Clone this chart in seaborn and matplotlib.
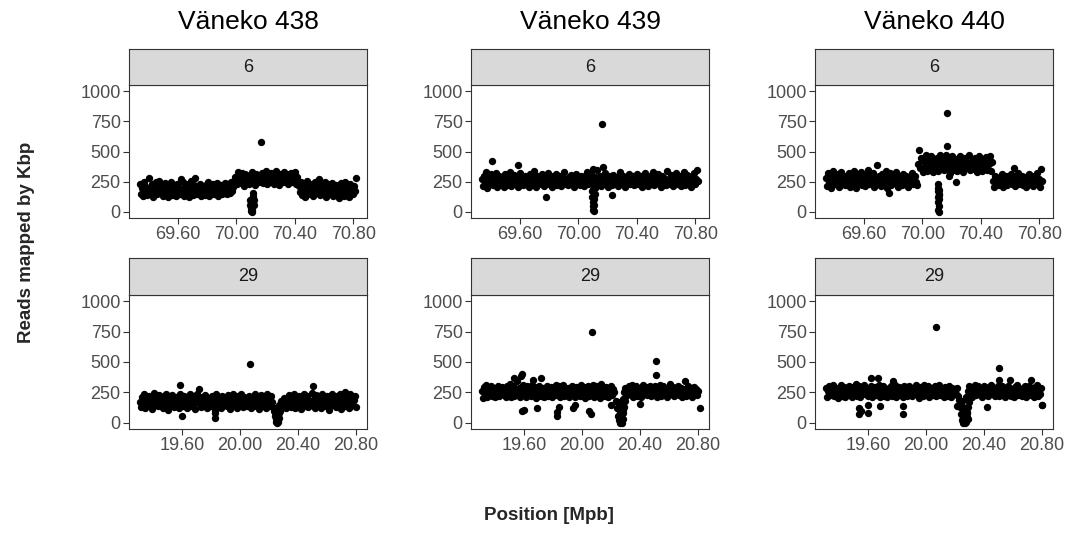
import numpy as np
import pandas as pd
import matplotlib
matplotlib.use("Agg")
import matplotlib.pyplot as plt
import seaborn as sns

# ---------------- data ----------------
samples = ["Väneko 438", "Väneko 439", "Väneko 440"]
chroms = ["6", "29"]
chrom_range = {"6": (69.34, 70.82), "29": (19.31, 20.80)}
xticks = {"6": [69.6, 70.0, 70.4, 70.8], "29": [19.6, 20.0, 20.4, 20.8]}
yticks = [0, 250, 500, 750, 1000]

# binned reads per Kbp along each region (evenly spaced windows)
v438_6 = [230,150,200,130,250,175,210,140,280,190,160,235,125,205,170,245,145,195,260,165,
          215,135,185,240,155,200,125,225,175,250,140,190,210,130,235,170,200,150,275,185,
          245,135,210,160,230,125,190,255,170,140,220,280,150,200,175,235,130,195,160,215,
          140,225,180,250,135,200,165,230,145,210,185,240,130,195,170,220,150,205,240,175,
          145,230,190,160,250,175,210,240,290,230,330,260,300,240,320,275,215,310,260,290,
          235,305,270,330,250,290,225,315,260,300,245,280,320,240,295,265,335,230,285,305,
          250,320,270,235,300,340,260,290,225,315,275,305,245,330,265,295,230,310,280,320,
          250,300,265,330,235,290,215,165,250,140,195,230,125,180,260,150,205,170,235,130,
          190,245,155,210,175,270,140,220,165,195,250,125,185,230,145,200,170,240,135,190,
          225,150,205,115,180,240,160,210,135,250,175,195,120,230,165,205,145,215,170,280]
v439_6 = [270,215,300,245,330,200,280,230,310,255,220,290,240,320,205,265,300,235,285,250,
          210,310,260,225,295,240,330,215,275,250,305,230,285,205,260,320,240,290,220,270,
          300,235,265,210,315,250,280,225,340,260,205,295,245,275,230,310,255,215,285,240,
          270,320,230,260,295,205,280,245,310,225,265,300,240,215,285,255,330,235,270,220,
          290,250,305,230,275,210,260,315,240,285,225,300,255,270,215,295,245,330,230,265,
          310,240,275,220,290,255,350,230,265,300,215,280,245,320,235,270,205,295,250,285,
          225,305,260,240,290,215,275,330,250,230,300,265,210,285,245,315,235,270,255,295,
          220,280,245,310,230,265,295,205,275,250,320,235,285,215,260,300,240,330,225,270,
          290,245,315,230,265,205,300,255,280,220,340,250,275,230,305,260,215,290,245,320,
          235,270,300,215,285,250,330,225,265,305,240,280,210,295,255,320,230,275,350,260]
v440_6 = [280,215,320,250,300,195,270,340,230,290,255,310,205,275,330,240,265,300,220,285,
          250,320,210,295,265,235,340,280,200,310,245,275,330,225,290,260,215,305,270,350,
          235,295,260,320,210,280,245,385,230,300,265,215,310,275,245,340,200,290,260,325,
          225,280,305,240,265,330,210,295,250,285,220,315,260,240,300,270,210,290,255,325,
          235,275,300,250,220,400,510,360,450,330,420,380,470,340,400,440,350,460,390,330,
          420,370,450,335,400,470,360,430,390,345,455,410,370,440,325,395,460,350,420,385,
          440,340,405,465,375,420,330,395,450,360,410,380,470,345,425,390,355,445,400,330,
          415,460,370,400,340,435,385,455,350,420,395,465,335,410,260,210,300,240,275,225,
          290,250,315,205,270,240,300,220,285,255,310,230,265,360,215,280,245,320,235,270,
          300,225,260,290,210,275,245,310,235,265,295,215,280,250,320,230,270,205,355,255]
v438_29 = [175,130,210,155,235,120,190,165,225,140,200,115,180,245,150,215,170,135,230,160,
           195,125,220,150,240,170,110,205,145,185,230,130,175,215,155,195,120,240,165,205,
           140,225,180,120,210,160,235,135,195,150,220,115,185,240,160,200,130,215,175,145,
           230,165,120,205,185,140,225,155,195,110,240,170,135,210,180,125,220,150,200,165,
           135,230,175,115,205,160,240,145,190,125,220,170,150,235,185,130,210,160,195,140,
           225,170,120,210,185,150,240,135,200,165,115,230,175,145,215,190,125,235,160,205,
           140,220,175,120,90,60,120,40,150,100,180,130,160,205,120,185,145,230,170,130,
           210,165,240,125,195,150,225,175,115,205,160,235,140,190,220,130,180,150,245,165,
           200,125,230,170,145,215,185,120,240,160,195,135,225,175,110,210,150,240,165,190,
           130,220,175,150,240,115,195,165,230,140,205,180,120,235,160,210,145,185,225,130]
v439_29 = [260,205,295,235,310,215,275,245,300,225,265,290,210,280,240,305,220,270,250,295,
           230,285,215,305,255,240,320,210,275,300,225,265,345,235,290,215,280,250,310,230,
           270,210,300,245,285,220,315,260,230,295,205,275,250,305,225,265,290,215,280,240,
           305,225,270,250,295,210,285,240,315,230,265,300,215,280,245,310,220,275,255,290,
           215,285,250,305,230,270,210,295,245,280,225,310,260,235,295,205,275,250,300,220,
           280,245,310,215,270,300,235,255,290,205,320,240,275,225,295,260,215,285,250,305,
           230,275,250,180,120,60,20,0,40,100,200,255,290,220,275,300,240,265,310,215,
           245,270,300,225,290,255,215,280,310,240,265,295,230,275,250,305,220,285,245,300,
           260,215,290,240,310,225,275,300,235,265,215,285,250,320,240,270,295,225,280,250,
           305,230,265,290,215,280,245,340,225,270,300,235,285,210,260,295,245,275,230,265]
v440_29 = [285,210,260,300,230,275,245,315,220,290,255,205,280,240,310,225,265,295,215,270,
           250,305,230,280,210,295,260,240,320,225,270,300,215,285,245,310,235,265,290,220,
           275,240,300,215,260,295,230,285,250,315,210,270,245,305,225,280,255,215,290,240,
           300,225,265,245,310,210,280,255,295,230,270,215,305,245,285,225,260,300,235,275,
           220,290,250,310,235,265,205,295,245,280,225,315,255,240,300,215,275,250,290,230,
           265,300,220,285,245,310,230,270,255,215,295,240,280,225,305,260,210,290,250,275,
           235,285,220,190,130,70,20,0,30,90,210,260,300,240,275,215,290,250,310,230,270,
           300,245,280,215,265,305,235,290,250,220,295,260,315,240,275,225,285,250,300,220,
           270,235,305,250,285,215,265,300,240,355,225,280,255,210,295,245,310,230,270,260,
           225,290,250,305,215,275,240,300,260,230,285,215,295,250,310,225,270,240,285,150]

# individual windows (deletion dips and outliers)
x438_6 = [70.095,70.097,70.100,70.102,70.105,70.108,70.110,70.112,70.115,70.118,70.120,70.17]
y438_6 = [100,60,30,10,0,20,80,130,160,100,60,575]
x439_6 = [70.095,70.097,70.099,70.101,70.103,70.105,70.107,70.109,70.111,70.113,70.100,70.106,
          69.41,69.59,69.78,70.165,70.17,70.23,70.10]
y439_6 = [170,120,80,50,20,10,60,110,150,200,190,140,420,385,125,730,370,140,355]
x440_6 = [70.105,70.107,70.109,70.111,70.113,70.110,70.112,70.108,70.112,70.114,70.116,70.106,
          70.17,70.17,70.18,70.23,69.77,70.16]
y440_6 = [230,200,170,140,110,80,50,20,0,180,150,120,820,545,300,250,160,470]
x438_29 = [20.235,20.240,20.245,20.250,20.255,20.260,20.265,20.270,20.275,20.280,20.250,20.260,20.270,
           20.07,19.59,19.60,19.72,19.83,19.83,20.50,20.72]
y438_29 = [100,60,30,10,0,20,50,80,110,140,70,5,40,480,315,55,275,80,40,305,255]
x439_29 = [20.250,20.255,20.260,20.265,20.270,20.275,20.280,20.285,20.290,20.295,20.260,20.270,20.280,
           19.59,19.60,19.69,19.83,19.83,19.84,19.94,19.95,20.06,20.05,20.20,20.40,20.81,
           20.07,20.51,20.51,19.53,19.59,19.58,19.72,19.66]
y439_29 = [170,130,90,50,10,0,30,80,130,180,150,70,110,
           100,110,120,60,90,130,120,150,70,100,150,155,120,
           750,510,395,370,400,385,365,350]
x440_29 = [20.245,20.250,20.255,20.260,20.265,20.270,20.275,20.280,20.285,20.290,20.295,20.260,20.270,20.280,20.290,
           19.54,19.54,19.55,19.60,19.60,19.68,19.84,19.84,20.21,20.42,20.80,19.62,19.67,19.77,20.50,20.50,20.07,20.72]
y440_29 = [180,140,100,60,20,0,10,50,90,130,170,120,40,80,30,
           120,70,100,80,150,140,140,70,140,130,150,365,365,340,450,355,790,350]

binned = {("Väneko 438", "6"): v438_6, ("Väneko 439", "6"): v439_6, ("Väneko 440", "6"): v440_6,
          ("Väneko 438", "29"): v438_29, ("Väneko 439", "29"): v439_29, ("Väneko 440", "29"): v440_29}
extra = {("Väneko 438", "6"): (x438_6, y438_6), ("Väneko 439", "6"): (x439_6, y439_6),
         ("Väneko 440", "6"): (x440_6, y440_6), ("Väneko 438", "29"): (x438_29, y438_29),
         ("Väneko 439", "29"): (x439_29, y439_29), ("Väneko 440", "29"): (x440_29, y440_29)}

rows = []
for (s, c), vals in binned.items():
    lo, hi = chrom_range[c]
    pos = np.linspace(lo, hi, len(vals))
    for p, v in zip(pos, vals):
        rows.append((s, c, p, v))
    ex, ey = extra[(s, c)]
    for p, v in zip(ex, ey):
        rows.append((s, c, p, v))
df = pd.DataFrame(rows, columns=["sample", "chrom", "pos", "reads"])

# ---------------- plot ----------------
sns.set_style("white")
plt.rcParams["font.family"] = ["Liberation Sans", "DejaVu Sans"]

W, H = 1069, 534
fig = plt.figure(figsize=(W / 100, H / 100), dpi=100)

lefts = [129, 471, 815]
pw = 238
panel_rows = {"6": (85, 218), "29": (295, 429)}
strip_rows = {"6": (49, 85), "29": (258, 295)}
edge = "#333333"

for j, s in enumerate(samples):
    for c in chroms:
        top, bot = panel_rows[c]
        ax = fig.add_axes([lefts[j] / W, 1 - bot / H, pw / W, (bot - top) / H])
        sub = df[(df["sample"] == s) & (df["chrom"] == c)]
        sns.scatterplot(data=sub, x="pos", y="reads", ax=ax, color="black",
                        s=28, linewidth=0, legend=False)
        lo, hi = chrom_range[c]
        pad = (hi - lo) * 0.05
        ax.set_xlim(lo - pad, hi + pad)
        ax.set_ylim(-50, 1050)
        ax.set_xticks(xticks[c])
        ax.set_xticklabels([f"{t:.2f}" for t in xticks[c]])
        ax.set_yticks(yticks)
        ax.set_xlabel("")
        ax.set_ylabel("")
        ax.tick_params(direction="out", length=4, width=0.8, color=edge,
                       labelcolor="#4D4D4D", labelsize=13, pad=2, bottom=True, left=True)
        for sp in ax.spines.values():
            sp.set_color(edge)
            sp.set_linewidth(0.8)
        # strip
        stop, sbot = strip_rows[c]
        sax = fig.add_axes([lefts[j] / W, 1 - sbot / H, pw / W, (sbot - stop) / H])
        sax.set_facecolor("#D9D9D9")
        sax.set_xticks([])
        sax.set_yticks([])
        for sp in sax.spines.values():
            sp.set_color(edge)
            sp.set_linewidth(0.8)
        sax.text(0.5, 0.5, c, ha="center", va="center", fontsize=13,
                 color="#1A1A1A", transform=sax.transAxes)
    fig.text((lefts[j] + pw / 2) / W, 1 - 22 / H, s, ha="center", va="center",
             fontsize=19, color="black")

fig.text(549 / W, 1 - 515 / H, "Position [Mpb]", ha="center", va="center",
         fontsize=13.5, fontweight="bold")
fig.text(27 / W, 1 - 242 / H, "Reads mapped by Kbp", ha="center", va="center",
         rotation=90, fontsize=13.5, fontweight="bold")

fig.savefig("out.png", dpi=100, facecolor="white")
